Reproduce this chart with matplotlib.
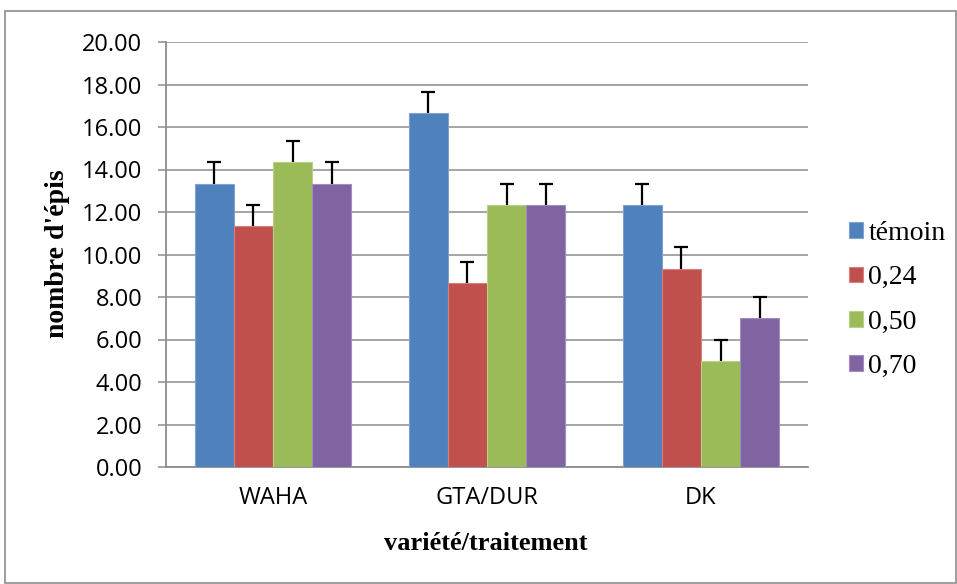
import matplotlib
matplotlib.use('Agg')
import matplotlib.pyplot as plt
import matplotlib.patches as patches
import numpy as np

# data
varietes = ["WAHA", "GTA/DUR", "DK"]
traitements = ["témoin", "0,24", "0,50", "0,70"]
temoin = [13.33, 16.67, 12.33]
t024 = [11.33, 8.67, 9.33]
t050 = [14.33, 12.33, 5.00]
t070 = [13.33, 12.33, 7.00]
erreurs = [1.0, 1.0, 1.0, 1.0]
yticks = [0, 2, 4, 6, 8, 10, 12, 14, 16, 18, 20]

series = [temoin, t024, t050, t070]
colors = ['#4F81BD', '#C0504D', '#9BBB59', '#8064A2']
edges = ['#7FA2D0', '#D5807D', '#B9D08A', '#A38DC0']

W, H = 957, 584
fig = plt.figure(figsize=(W / 100, H / 100), dpi=100)
ax = fig.add_axes([166 / W, 1 - 467 / H, (808 - 166) / W, (467 - 42) / H])

# outer frame like the Excel chart area
frame = patches.Rectangle((5 / W, 1 / H), 951 / W, 572 / H, transform=fig.transFigure,
                          fill=False, edgecolor='#8c8c8c', linewidth=1.2)
fig.patches.append(frame)

x = np.arange(len(varietes))
w = 0.729 / 4
for i, (vals, c) in enumerate(zip(series, colors)):
    pos = x - 1.5 * w + i * w
    ax.bar(pos, vals, width=w, color=c, edgecolor=edges[i], linewidth=0.8,
           label=traitements[i], zorder=3)
    eb = ax.errorbar(pos, vals, yerr=[[0] * len(vals), [erreurs[i]] * len(vals)],
                     fmt='none', ecolor='black', elinewidth=1.6, capsize=4.7,
                     capthick=1.6, zorder=4)
    # only the upper cap, as in the original
    eb[1][0].set_visible(False)

ax.set_xlim(-0.5, 2.5)
ax.set_ylim(0, 20)
ax.set_yticks(yticks)
ax.set_yticklabels([f"{v:.2f}" for v in yticks], fontsize=17, family='Open Sans')
ax.set_xticks(x)
ax.set_xticklabels(varietes, fontsize=17, family='Open Sans')
ax.tick_params(axis='x', length=0, pad=14)
ax.tick_params(axis='y', length=6, color='#8c8c8c', width=1.1, pad=11)

ax.grid(axis='y', color='#8c8c8c', linewidth=1.1, zorder=0)
ax.set_axisbelow(True)
for s in ['top', 'right']:
    ax.spines[s].set_visible(False)
for s in ['left', 'bottom']:
    ax.spines[s].set_color('#8c8c8c')
    ax.spines[s].set_linewidth(1.3)

fig.text(58 / W, 1 - 254 / H, "nombre d'épis", rotation=90, ha='center', va='center',
         fontsize=20, fontweight='bold', family='Liberation Serif')
fig.text(486 / W, 1 - 544 / H, "variété/traitement", ha='center', va='center',
         fontsize=19, fontweight='bold', family='Liberation Serif')

ax.legend(loc='center left', bbox_to_anchor=(849 / W, 1 - 300 / H),
          bbox_transform=fig.transFigure, frameon=False, borderpad=0, borderaxespad=0,
          prop={'family': 'Liberation Serif', 'size': 20},
          handlelength=0.5, handleheight=0.5, handletextpad=0.2, labelspacing=0.7)

fig.savefig('out.png', dpi=100)
